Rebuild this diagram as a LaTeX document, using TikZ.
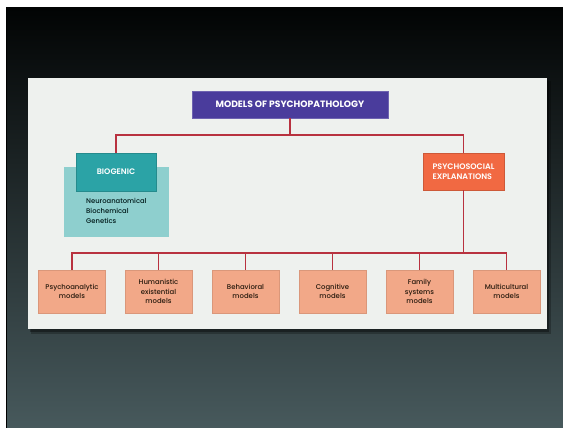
\documentclass[tikz,border=0pt]{standalone}
\usepackage{fontspec}
\setmainfont{Poppins}
\newfontfamily\mediumface{Poppins}[UprightFont=* Medium]
\newfontfamily\semiface{Poppins}[UprightFont=* SemiBold]

\definecolor{titlepurple}{HTML}{4A3C9C}
\definecolor{bioteal}{HTML}{2BA3A6}
\definecolor{listteal}{HTML}{8ECFCE}
\definecolor{psyorange}{HTML}{F16942}
\definecolor{modelsalmon}{HTML}{F2A888}
\definecolor{linkred}{HTML}{B8323F}
\definecolor{panelgray}{HTML}{EEF1EE}
\definecolor{slatetop}{HTML}{020404}
\definecolor{slatebottom}{HTML}{47595C}

\tikzstyle{link}=[draw=linkred, line width=1.1pt]
\tikzstyle{header}=[rectangle, text=white, inner sep=0pt, font=\semiface\fontsize{8}{10.5}\selectfont]
\tikzstyle{model}=[rectangle, fill=modelsalmon, draw=modelsalmon!90!black, line width=0.4pt, minimum width=67pt, minimum height=43pt, inner sep=0pt, align=center, text=black!80!brown, font=\mediumface\fontsize{6.9}{9.2}\selectfont]

\begin{document}
\begin{tikzpicture}[x=1pt, y=-1pt]
\useasboundingbox (0,0) rectangle (563,428);
\fill[white] (0,0) rectangle (563,428);
\shade[top color=slatetop, bottom color=slatebottom] (6,8) rectangle (563,428);
\draw[black, line width=1pt] (6,8) -- (6,428);

% panel with its shadow
\fill[black, opacity=0.25] (31,81) rectangle (551,334);
\fill[black, opacity=0.35] (30,80) rectangle (549,332);
\fill[panelgray] (28,78) rectangle (547,329);

% top of the tree
\node[header, fill=titlepurple, draw=titlepurple!80!white, minimum width=196pt, minimum height=27pt, font=\bfseries\fontsize{9.2}{11}\selectfont] (title) at (290,104.5) {MODELS OF PSYCHOPATHOLOGY};
\coordinate (hub) at (290,135);

\fill[listteal] (64,167) rectangle (169,237);
\node[header, fill=bioteal, draw=bioteal!85!black, minimum width=80pt, minimum height=38pt] (bio) at (116,172) {BIOGENIC};
\node[anchor=north west, align=left, inner sep=0pt, text=black!80!teal, font=\mediumface\fontsize{6.8}{10}\selectfont] (biolist) at (86,198) {Neuroanatomical\\Biochemical\\Genetics};

\node[header, fill=psyorange, draw=psyorange!85!black, minimum width=81pt, minimum height=37pt, align=left] (psy) at (463.5,171.5) {PSYCHOSOCIAL\\EXPLANATIONS};
\coordinate (bus) at (463.5,253);

\draw[link] (title.south) -- (hub);
\draw[link] (bio.north) |- (hub) -| (psy.north);
\draw[link] (psy.south) -- (bus);

% the six models
\node[model] (m1) at (72,291.5) {Psychoanalytic\\models};
\node[model] (m2) at (158.5,291.5) {Humanistic\\existential\\models};
\node[model] (m3) at (245.5,291.5) {Behavioral\\models};
\node[model] (m4) at (332.5,291.5) {Cognitive\\models};
\node[model] (m5) at (419.5,291.5) {Family\\systems\\models};
\node[model] (m6) at (506.5,291.5) {Multicultural\\models};

\draw[link] (m1.north) |- (bus);
\draw[link] (m2.north) |- (bus);
\draw[link] (m3.north) |- (bus);
\draw[link] (m4.north) |- (bus);
\draw[link] (m5.north) |- (bus);
\draw[link] (m6.north) |- (bus);
\end{tikzpicture}
\end{document}
